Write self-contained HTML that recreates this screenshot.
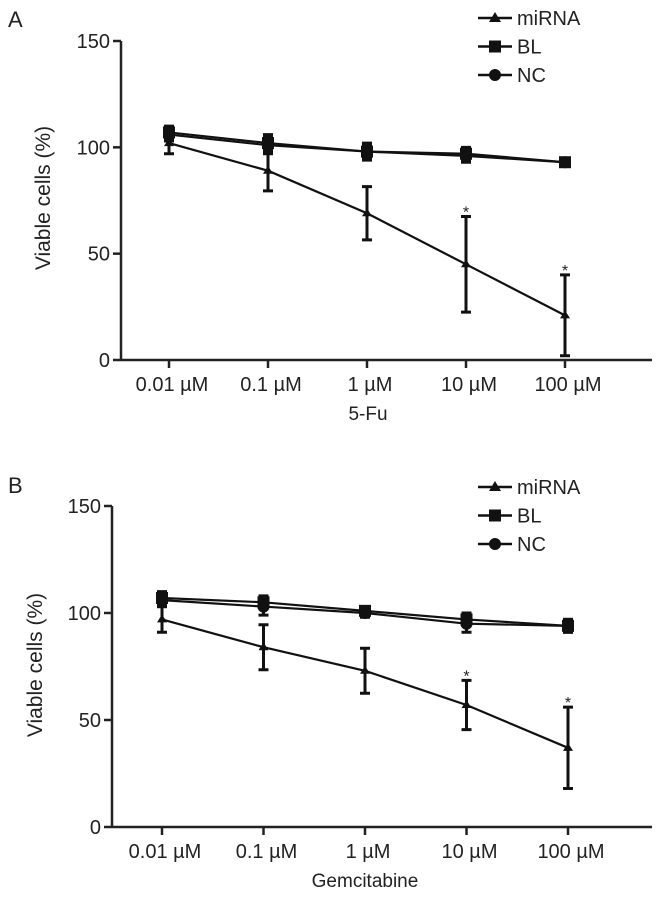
<!DOCTYPE html>
<html><head><meta charset="utf-8"><style>
body{margin:0;background:#fff;width:662px;height:900px;overflow:hidden}
svg text{font-family:"Liberation Sans",sans-serif;fill:#222}
</style></head><body>
<svg id="c" width="662" height="900" xmlns="http://www.w3.org/2000/svg"></svg>
<script>
const categories=["0.01 µM","0.1 µM","1 µM","10 µM","100 µM"];
const yTicks=[0,50,100,150];
const aMi=[102,89,69,45,21], aMiErr=[5,9.5,12.5,22.5,19];
const aBL=[107,102,98,97,93], aBLErr=[3,4,4,3,2];
const aNC=[106,101,98,96,93], aNCErr=[3,4,3,3,2];
const bMi=[97,84,73,57,37], bMiErr=[6,10.5,10.5,11.5,19];
const bBL=[107,105,101,97,94], bBLErr=[3,3,2,3,3];
const bNC=[106,103,100,95,94], bNCErr=[3,4,2,4,3];
const aSig=[false,false,false,true,true], bSig=[false,false,false,true,true];
const svg=document.getElementById('c');
const NS="http://www.w3.org/2000/svg";
function mk(t,a,p){const e=document.createElementNS(NS,t);for(const k in a)e.setAttribute(k,a[k]);(p||svg).appendChild(e);return e;}
function panel(cfg){
  const g=mk('g',{});
  
  
  const y=v=>cfg.y0-(cfg.y0-cfg.y150)*v/150;
  const x=i=>cfg.x0+i*cfg.dx;
  const lbl=mk('text',{x:8,y:cfg.lblY,'font-size':22},g);lbl.textContent=cfg.letter;
  
  
  const ya=mk('line',{x1:cfg.ax,y1:y(150),x2:cfg.ax,y2:y(0),stroke:'#222','stroke-width':2.5},g);
  
  
  const xa=mk('line',{x1:cfg.ax,y1:y(0),x2:652,y2:y(0),stroke:'#222','stroke-width':2.5},g);
  
  
  yTicks.forEach(t=>{
    mk('line',{x1:cfg.ax-8,y1:y(t),x2:cfg.ax,y2:y(t),stroke:'#222','stroke-width':2.5},g);
    const tx=mk('text',{x:cfg.ax-11,y:y(t)+7,'font-size':20,'text-anchor':'end'},g);tx.textContent=t;
    
    
  });
  categories.forEach((c,i)=>{
    mk('line',{x1:x(i),y1:y(0),x2:x(i),y2:y(0)+8,stroke:'#222','stroke-width':2.5},g);
    const tx=mk('text',{x:x(i)+3,y:y(0)+31,'font-size':20,'text-anchor':'middle'},g);tx.textContent=c;
    
    
  });
  const xt=mk('text',{x:cfg.xtX,y:y(0)+60,'font-size':19,'text-anchor':'middle'},g);xt.textContent=cfg.xTitle;
  
  
  const yt=mk('text',{x:0,y:0,'font-size':21,'text-anchor':'middle',transform:`translate(${cfg.ytX},${cfg.ytY}) rotate(-90)`},g);yt.textContent='Viable cells (%)';
  
  
  function series(vals,errs,shape,name){
    const sg=mk('g',{},g);
    
    
    mk('polyline',{points:vals.map((v,i)=>x(i)+','+y(v)).join(' '),fill:'none',stroke:'#111','stroke-width':2.2},sg);
    vals.forEach((v,i)=>{
      const e=errs[i];
      mk('path',{d:`M${x(i)},${y(v+e)}V${y(v-e)}M${x(i)-5},${y(v+e)}h10M${x(i)-5},${y(v-e)}h10`,stroke:'#111','stroke-width':3,fill:'none'},sg);
      let m;
      if(shape==='tri')m=mk('path',{d:`M${x(i)},${y(v)-5}l5,8h-10z`,fill:'#111'},sg);
      else if(shape==='sq')m=mk('rect',{x:x(i)-6,y:y(v)-6,width:12,height:12,fill:'#111'},sg);
      else m=mk('circle',{cx:x(i),cy:y(v),r:6,fill:'#111'},sg);
      
      
    });
  }
  series(cfg.nc,cfg.ncE,'circ','series-nc');
  series(cfg.bl,cfg.blE,'sq','series-bl');
  series(cfg.mi,cfg.miE,'tri','series-mirna');
  cfg.sig.forEach((s,i)=>{if(!s)return;
    const st=mk('text',{x:x(i),y:y(cfg.mi[i]+cfg.miE[i])+1,'font-size':16,'text-anchor':'middle'},g);st.textContent='*';
    
    
  });
  [['miRNA','tri'],['BL','sq'],['NC','circ']].forEach((l,k)=>{
    const ly=cfg.legY+k*28.5;
    const lg=mk('g',{},g);
    
    
    mk('line',{x1:478,y1:ly,x2:512,y2:ly,stroke:'#111','stroke-width':2.5},lg);
    if(l[1]==='tri')mk('path',{d:`M495,${ly-6}l6,10h-12z`,fill:'#111'},lg);
    else if(l[1]==='sq')mk('rect',{x:489,y:ly-6,width:12,height:12,fill:'#111'},lg);
    else mk('circle',{cx:495,cy:ly,r:6,fill:'#111'},lg);
    const t=mk('text',{x:517,y:ly+7,'font-size':20},lg);t.textContent=l[0];
  });
}
panel({name:'panel-a',letter:'A',lblY:27,ax:121,y0:360,y150:41,x0:169,dx:99,xTitle:'5-Fu',xtX:368,ytX:50,ytY:198,legY:18,
  mi:aMi,miE:aMiErr,bl:aBL,blE:aBLErr,nc:aNC,ncE:aNCErr,sig:aSig});
panel({name:'panel-b',letter:'B',lblY:493,ax:112,y0:827,y150:506,x0:162,dx:101.5,xTitle:'Gemcitabine',xtX:365,ytX:42,ytY:665,legY:487,
  mi:bMi,miE:bMiErr,bl:bBL,blE:bBLErr,nc:bNC,ncE:bNCErr,sig:bSig});
</script>
</body></html>
